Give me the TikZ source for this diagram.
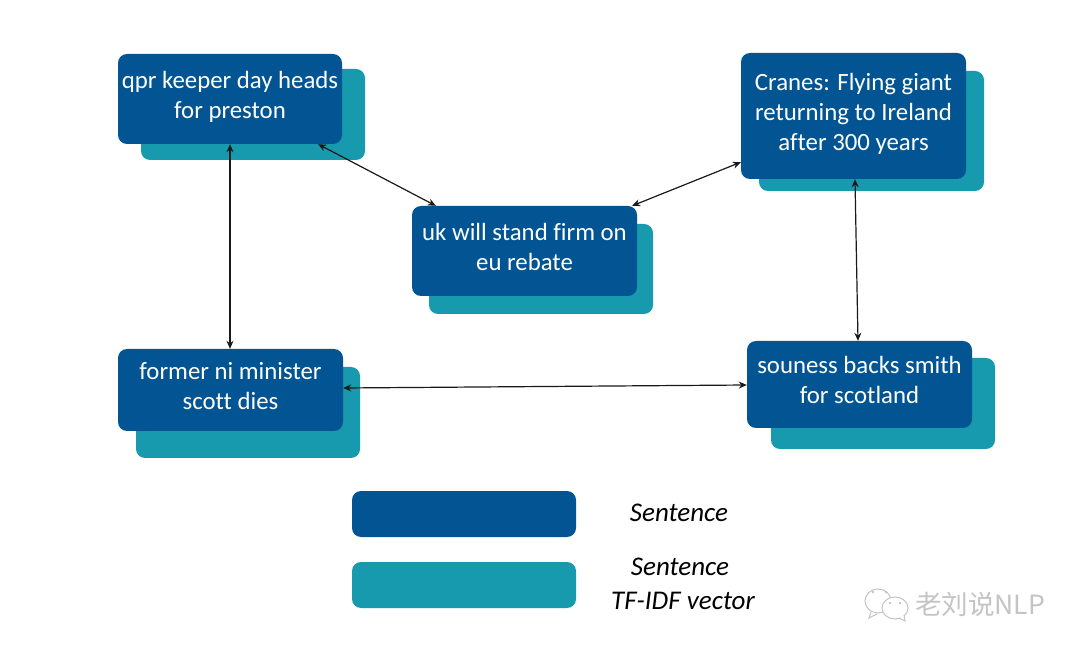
\documentclass[tikz,border=0pt]{standalone}
\usepackage{fontspec}
\setmainfont[Ligatures={NoCommon}]{Carlito}
\newfontfamily\cjkmark{Noto Sans CJK SC}
\usetikzlibrary{arrows.meta,calc}
\definecolor{sentblue}{HTML}{025592}
\definecolor{vecteal}{HTML}{1799AE}
\definecolor{markgray}{HTML}{C4C4C4}
% Box captions sit slightly above the centre of their box: extra depth pushes them up
\newcommand{\boxcaption}[1]{\raisebox{0pt}[\height][\dimexpr\depth+3pt\relax]{\renewcommand{\arraystretch}{1}\begin{tabular}{@{}c@{}}#1\end{tabular}}}
\tikzset{
  panel/.style={rectangle,rounded corners=9pt,inner sep=0pt,draw=none},
  sentbox/.style={panel,fill=sentblue,text=white,font=\fontsize{24.8}{30}\selectfont},
  vecbox/.style={panel,fill=vecteal},
  link/.style={{Stealth[length=8pt,width=7pt]}-{Stealth[length=8pt,width=7pt]},line width=1.2pt,black!90},
  legendtext/.style={inner sep=0pt,align=center,font=\fontsize{27}{34}\selectfont\itshape,text=black},
  bubble/.style={draw=markgray,line width=1pt,fill=white},
}
\begin{document}
\begin{tikzpicture}[x=1pt,y=-1pt]
\useasboundingbox (0,0) rectangle (1080,652);
\fill[white] (0,0) rectangle (1080,652);

% TF-IDF vector layers behind the sentences
\node[vecbox,minimum width=224pt,minimum height=91pt] (qprvec) at (253,114.5) {};
\node[vecbox,minimum width=224pt,minimum height=90pt] (ukvec) at (541,269) {};
\node[vecbox,minimum width=225pt,minimum height=120pt] (cranesvec) at (871.5,131) {};
\node[vecbox,minimum width=224pt,minimum height=91pt] (formervec) at (248,412.5) {};
\node[vecbox,minimum width=224pt,minimum height=91pt] (sounessvec) at (883,403.5) {};

% Sentences
\node[sentbox,minimum width=224pt,minimum height=90pt] (qpr) at (230,99) {\boxcaption{qpr keeper day heads\\for preston}};
\node[sentbox,minimum width=225pt,minimum height=90pt] (uk) at (524.5,251) {\boxcaption{uk will stand firm on\\eu rebate}};
\node[sentbox,minimum width=225pt,minimum height=126pt] (cranes) at (853.5,116) {\boxcaption{Cranes: Flying giant\\returning to Ireland\\after 300 years}};
\node[sentbox,minimum width=225pt,minimum height=82pt] (former) at (230.5,390) {\boxcaption{former ni minister\\scott dies}};
\node[sentbox,minimum width=225pt,minimum height=87pt] (souness) at (859.5,384.5) {\boxcaption{souness backs smith\\for scotland}};

% Similarity links between sentences
\draw[link] (qpr.south) -- ([xshift=-0.5pt]former.north);
\draw[link] ([xshift=-24pt]qpr.south east) -- ([xshift=24pt]uk.north west);
\draw[link] ([xshift=-5pt]uk.north east) -- ([yshift=17pt]cranes.south west);
\draw[link] ([xshift=1.5pt]cranes.south) -- ([xshift=-1.5pt]souness.north);
\draw[link] ([yshift=2pt]former.east) -- ([yshift=-0.5pt]souness.west);

% Legend
\node[sentbox,minimum width=224pt,minimum height=46pt] (legsent) at (464,514) {};
\node[vecbox,minimum width=224pt,minimum height=46pt] (legvec) at (464,585) {};
\node[legendtext] (legsenttext) at (679,513) {Sentence};
\node[legendtext] (legvectext) at (683,583.5) {Sentence\hspace*{6pt}\\TF-IDF vector};

% Account mark in the lower right corner
\draw[bubble] (878,601) ellipse (13 and 12);
\draw[bubble] (871,612) -- (869,618) -- (877,614);
\fill[markgray] (873,592) circle (1.3) (886,592) circle (1.3);
\draw[bubble] (895,608) ellipse (13 and 11);
\draw[bubble] (899,618) -- (905,621) -- (904,615);
\fill[markgray] (890,603) circle (1.3) (900,603) circle (1.3);
\node[inner sep=0pt,text=markgray,font=\fontsize{26.5}{30}\selectfont\cjkmark] (marktext) at (980,604) {老刘说NLP};
\end{tikzpicture}
\end{document}
